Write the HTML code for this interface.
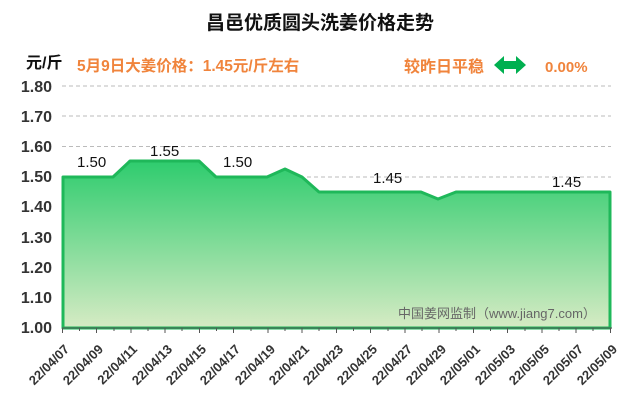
<!DOCTYPE html>
<html><head><meta charset="utf-8"><style>
body{margin:0;background:#fff;}
svg text{font-family:"Liberation Sans","Noto Sans CJK SC",sans-serif;}
</style></head><body>
<svg width="640" height="410" viewBox="0 0 640 410" xmlns="http://www.w3.org/2000/svg">
<defs>
<linearGradient id="g" x1="0" y1="0" x2="0" y2="1">
<stop offset="0" stop-color="#2ecc6e"/>
<stop offset="1" stop-color="#d6ebc4"/>
</linearGradient>
</defs>
<text x="320" y="29" text-anchor="middle" font-size="19" font-weight="bold" fill="#111">昌邑优质圆头洗姜价格走势</text>
<text x="26" y="68" font-size="16" font-weight="bold" fill="#111">元/斤</text>
<text x="77" y="71" font-size="15.5" font-weight="bold" fill="#f0843c">5月9日大姜价格：1.45元/斤左右</text>
<text x="404" y="72" font-size="16" font-weight="bold" fill="#f0843c">较昨日平稳</text>
<polygon points="494,65 504,56 504,61 516,61 516,56 526,65 516,74 516,69 504,69 504,74" fill="#00b050"/>
<text x="545" y="72" font-size="15" font-weight="bold" fill="#f0843c">0.00%</text>
<g stroke="#bbb" stroke-dasharray="4,3" stroke-width="1">
<line x1="62" y1="86" x2="611" y2="86"/><line x1="62" y1="116" x2="611" y2="116"/>
<line x1="62" y1="146.5" x2="611" y2="146.5"/><line x1="62" y1="177" x2="611" y2="177"/>
<line x1="62" y1="207" x2="611" y2="207"/><line x1="62" y1="237" x2="611" y2="237"/>
<line x1="62" y1="267" x2="611" y2="267"/><line x1="62" y1="297.5" x2="611" y2="297.5"/>
</g>
<g font-size="16" font-weight="bold" fill="#333" text-anchor="end">
<text x="52" y="92">1.80</text><text x="52" y="122">1.70</text><text x="52" y="152">1.60</text>
<text x="52" y="182">1.50</text><text x="52" y="212">1.40</text><text x="52" y="243">1.30</text>
<text x="52" y="273">1.20</text><text x="52" y="303">1.10</text><text x="52" y="333">1.00</text>
</g>
<polygon fill="url(#g)" stroke="#1fb85a" stroke-width="3" stroke-linejoin="round"
points="63,328 63,177 113,177 130,161 199,161 216,177 267,177 285,169 302,177 319,192 421,192 438,199 456,192 610,192 610,328"/>
<line x1="62" y1="328" x2="612" y2="328" stroke="#555" stroke-width="1"/>
<g font-size="15" fill="#111">
<text x="77" y="167">1.50</text><text x="150" y="156">1.55</text><text x="223" y="167">1.50</text>
<text x="373" y="183">1.45</text><text x="552" y="187">1.45</text>
</g>
<text x="398" y="318" font-size="13" fill="#666">中国姜网监制（www.jiang7.com）</text>
<g font-size="13" font-weight="bold" fill="#333" text-anchor="end">
<text transform="translate(70,350) rotate(-45)">22/04/07</text>
<text transform="translate(104,350) rotate(-45)">22/04/09</text>
<text transform="translate(138,350) rotate(-45)">22/04/11</text>
<text transform="translate(173,350) rotate(-45)">22/04/13</text>
<text transform="translate(207,350) rotate(-45)">22/04/15</text>
<text transform="translate(241,350) rotate(-45)">22/04/17</text>
<text transform="translate(276,350) rotate(-45)">22/04/19</text>
<text transform="translate(310,350) rotate(-45)">22/04/21</text>
<text transform="translate(344,350) rotate(-45)">22/04/23</text>
<text transform="translate(378,350) rotate(-45)">22/04/25</text>
<text transform="translate(413,350) rotate(-45)">22/04/27</text>
<text transform="translate(447,350) rotate(-45)">22/04/29</text>
<text transform="translate(481,350) rotate(-45)">22/05/01</text>
<text transform="translate(516,350) rotate(-45)">22/05/03</text>
<text transform="translate(550,350) rotate(-45)">22/05/05</text>
<text transform="translate(584,350) rotate(-45)">22/05/07</text>
<text transform="translate(618,350) rotate(-45)">22/05/09</text>
</g>
<g stroke="#555" stroke-width="1">
<path d="M62.5,328v5M79.5,328v3M96.5,328v5M114,328v3M131,328v5M148,328v3M165,328v5M182,328v3M199.5,328v5M216.5,328v3M233.5,328v5M251,328v3M268,328v5M285,328v3M302,328v5M319,328v3M336.5,328v5M353.5,328v3M370.5,328v5M388,328v3M405,328v5M422,328v3M439,328v5M456,328v3M473.5,328v5M490.5,328v3M507.5,328v5M525,328v3M542,328v5M559,328v3M576,328v5M593,328v3M610.5,328v5"/>
</g>
</svg>
</body></html>
